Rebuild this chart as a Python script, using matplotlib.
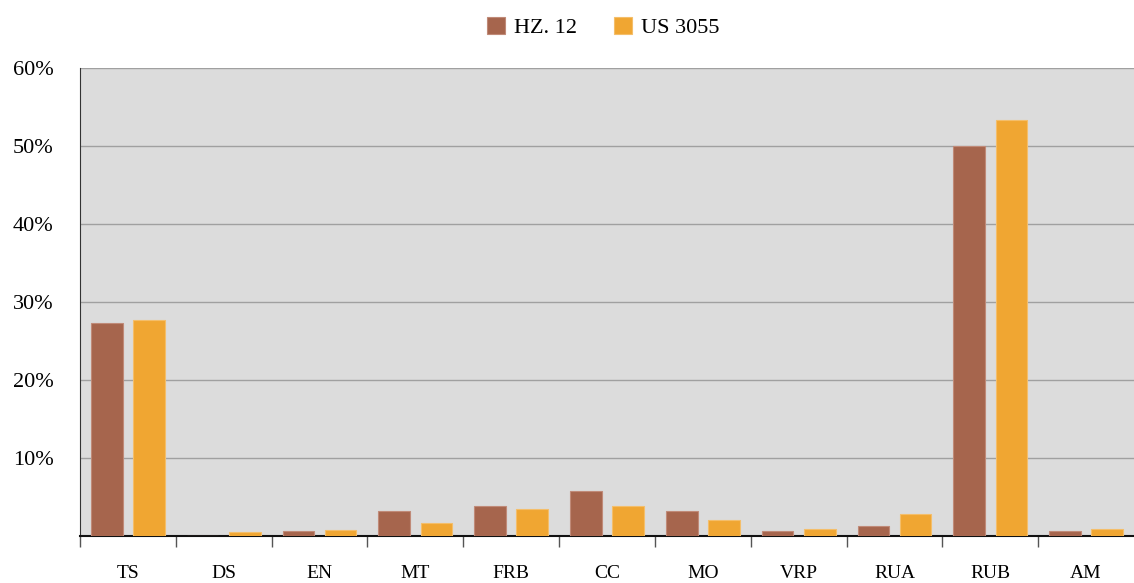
import matplotlib
matplotlib.use("Agg")
import matplotlib.pyplot as plt
import numpy as np
from matplotlib.ticker import FixedLocator, FuncFormatter

categories = ["TS", "DS", "EN", "MT", "FRB", "CC", "MO", "VRP", "RUA", "RUB", "AM"]
series_names = ["HZ. 12", "US 3055"]
hz12 = [27.3, 0.0, 0.6, 3.2, 3.85, 5.75, 3.2, 0.6, 1.3, 50.0, 0.6]
us3055 = [27.7, 0.5, 0.75, 1.65, 3.45, 3.85, 2.1, 0.9, 2.8, 53.3, 0.9]
colors = ["#A6654D", "#F0A632"]
yticks = [10, 20, 30, 40, 50, 60]

plt.rcParams['font.family'] = ['Liberation Serif', 'DejaVu Serif']

fig = plt.figure(figsize=(11.34, 5.83), dpi=100)
ax = fig.add_axes([80/1134, 47/583, 1 - 80/1134, (536-68)/583])
ax.set_facecolor("#DCDCDC")

x = np.arange(len(categories))
w = 0.33
off = 0.22
ax.bar(x - off, hz12, w, color=colors[0], edgecolor="#C08A78", linewidth=0.8, label=series_names[0], zorder=3)
ax.bar(x + off, us3055, w, color=colors[1], edgecolor="#F4BE6A", linewidth=0.8, label=series_names[1], zorder=3)

ax.set_xlim(-0.5, len(categories) - 0.5)
ax.set_ylim(0, 60)
ax.yaxis.set_major_locator(FixedLocator(yticks))
ax.yaxis.set_major_formatter(FuncFormatter(lambda v, p: f"{int(v)}%"))
ax.grid(axis="y", color="#A0A0A0", linewidth=1.0, zorder=0)
ax.tick_params(axis="y", length=0, pad=19, labelsize=16)

ax.set_xticks(x)
ax.set_xticklabels(categories)
ax.set_xticks(np.arange(len(categories)) - 0.5, minor=True)
ax.tick_params(axis="x", which="major", length=0, pad=21, labelsize=14)
ax.tick_params(axis="x", which="minor", length=8, width=1, color="#555555", direction="out")

for s in ["top", "right"]:
    ax.spines[s].set_visible(False)
ax.spines["left"].set_color("#333333")
ax.spines["bottom"].set_color("#111111")
ax.spines["bottom"].set_linewidth(1.5)

fig.legend(loc="upper center", bbox_to_anchor=(0.532, 1.005), ncol=2, frameon=False,
           fontsize=16, handlelength=0.8, handleheight=0.8, columnspacing=1.7, handletextpad=0.4)

fig.savefig("out.png", dpi=100)
